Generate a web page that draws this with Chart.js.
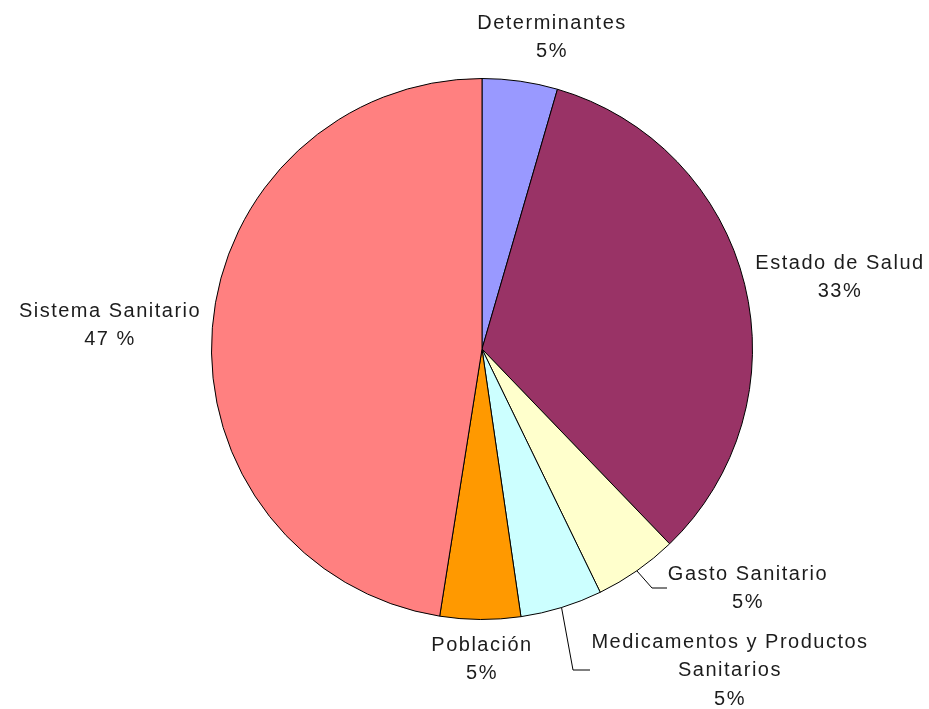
<!DOCTYPE html>
<html>
<head>
<meta charset="utf-8">
<script src="https://cdn.jsdelivr.net/npm/chart.js@4.4.1/dist/chart.umd.min.js"></script>
<style>
  html, body { margin: 0; padding: 0; background: #fff; }
  #wrap { width: 929px; height: 709px; position: relative; }
</style>
</head>
<body>
<div id="wrap"><canvas id="myChart" width="929" height="709"></canvas></div>
<script>
// data (clockwise from the top)
const categories = ['Determinantes', 'Estado de Salud', 'Gasto Sanitario', 'Medicamentos y Productos Sanitarios', 'Población', 'Sistema Sanitario'];
const shares = [4.5, 33.3, 5.0, 4.9, 4.8, 47.5];
const shareLabels = ['5%', '33%', '5%', '5%', '5%', '47 %'];

const sliceColors = ['#9999FF', '#993366', '#FFFFCC', '#CCFFFF', '#FF9900', '#FF8080'];

// where each label sits (centre of first line) and how it wraps
const labelLines = [
    ['Determinantes'],
    ['Estado de Salud'],
    ['Gasto Sanitario'],
    ['Medicamentos y Productos', 'Sanitarios'],
    ['Población'],
    ['Sistema Sanitario']
];
const labelPos = [
    [552, 23], [840, 263], [748, 574], [730, 642], [482, 645], [110, 311]
];
// leader lines: elbow + end, only for the crowded slices
const leaders = {
    2: [[652, 588], [667, 588]],
    3: [[573, 670], [590, 670]]
};

const labelPlugin = {
    id: 'sliceLabels',
    afterDatasetsDraw(chart) {
        const ctx = chart.ctx;
        const meta = chart.getDatasetMeta(0);
        ctx.save();
        ctx.font = '20px "Liberation Sans", Arial, sans-serif';
        ctx.letterSpacing = '1.5px';
        ctx.fillStyle = '#1c1c1c';
        ctx.textAlign = 'center';
        ctx.textBaseline = 'middle';
        meta.data.forEach(function (arc, i) {
            const lines = labelLines[i].concat([shareLabels[i]]);
            const p = labelPos[i];
            lines.forEach(function (t, k) {
                ctx.fillText(t, p[0], p[1] + k * 28.5);
            });
            if (leaders[i]) {
                const mid = (arc.startAngle + arc.endAngle) / 2;
                const sx = arc.x + Math.cos(mid) * arc.outerRadius;
                const sy = arc.y + Math.sin(mid) * arc.outerRadius;
                ctx.beginPath();
                ctx.strokeStyle = '#000';
                ctx.lineWidth = 1;
                ctx.moveTo(sx, sy);
                leaders[i].forEach(function (q) { ctx.lineTo(q[0], q[1]); });
                ctx.stroke();
            }
        });
        ctx.restore();
    }
};

const ctx = document.getElementById('myChart').getContext('2d');
const myChart = new Chart(ctx, {
    type: 'pie',
    data: {
        labels: categories,
        datasets: [{
            data: shares,
            backgroundColor: sliceColors,
            borderColor: '#000',
            borderWidth: 1,
        }],
    },
    options: {
        responsive: false,
        animation: false,
        layout: {
            padding: { left: 211, right: 176, top: 78, bottom: 89 }
        },
        plugins: {
            legend: { display: false },
            tooltip: { enabled: false },
        },
    },
    plugins: [labelPlugin],
});
</script>
</body>
</html>
